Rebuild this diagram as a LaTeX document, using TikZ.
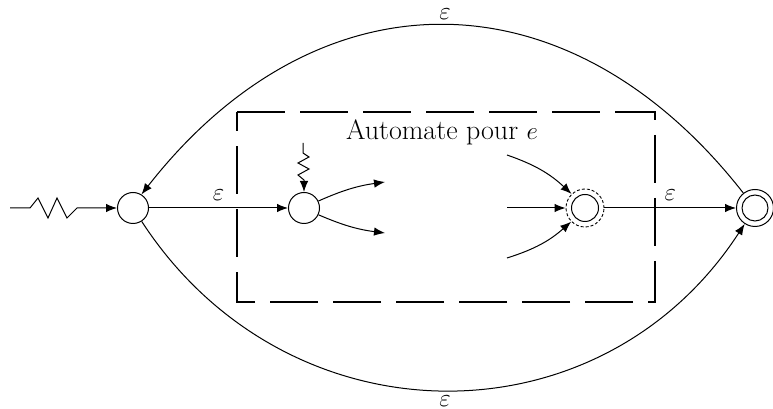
\documentclass[tikz,border=0pt]{standalone}
\usetikzlibrary{arrows.meta}
\begin{document}
\begin{tikzpicture}[x=1pt,y=1pt,
  every node/.style={font=\fontsize{28}{34}\selectfont},
  st/.style={circle,draw,line width=1pt,minimum size=31pt,inner sep=0pt},
  lab/.style={inner sep=0pt},
  arr/.style={line width=1pt,-{Latex[length=11pt,width=8.5pt]}},
  box/.style={line width=2.6pt,dash pattern=on 48pt off 15pt}]
\useasboundingbox (0,0) rectangle (773,409);
% states
\node[st] (q0) at (133,201) {};
\node[st] (q1) at (304,201) {};
\node[circle,draw,line width=0.9pt,dash pattern=on 3pt off 2pt,minimum size=38pt,inner sep=0pt] (qe) at (585,201) {};
\node[circle,draw,line width=1pt,minimum size=27pt,inner sep=0pt] (qei) at (585,201) {};
\node[circle,draw,line width=1pt,minimum size=37pt,inner sep=0pt] (qf) at (755,201) {};
\node[circle,draw,line width=1pt,minimum size=26pt,inner sep=0pt] (qfi) at (755,201) {};
% dashed box
\draw[box] (237,297) -- (655,297) -- (655,107) -- (237,107) -- cycle;
\node[anchor=base,inner sep=0pt] (title) at (442,269) {Automate pour $e$};
% coordinates
\coordinate (s0) at (10,201);
\coordinate (s1) at (303,266);
\coordinate (o1) at (385,227);
\coordinate (o2) at (385,176);
\coordinate (i1) at (507,254);
\coordinate (i2) at (507,201);
\coordinate (i3) at (507,151);
% initial zigzags
\draw[arr] (s0) -- (30,201) -- (38,211) -- (48,191) -- (57,211) -- (67,191) -- (77,201) -- (q0);
\draw[arr] (s1) -- (303,256) -- (309,252) -- (298,246) -- (309,240) -- (298,234) -- (304,229) -- (q1);
% transitions
\draw[arr] (q0) -- node[lab,above=7pt] (e1) {$\varepsilon$} (q1);
\draw[arr] (q1) to[bend left=8] (o1);
\draw[arr] (q1) to[bend right=8] (o2);
\draw[arr] (i1) to[bend left=12] (qe);
\draw[arr] (i2) -- (qe);
\draw[arr] (i3) to[bend right=12] (qe);
\draw[arr] (qe) -- node[lab,above=7pt] (e2) {$\varepsilon$} (qf);
\draw[arr] (qf.128) .. controls +(128:285) and +(52:285) .. (q0.58);
\draw[arr] (q0.-57) .. controls +(-57:266) and +(-123:266) .. (qf.-123);
\node[lab] (e3) at (445,395) {$\varepsilon$};
\node[lab] (e4) at (445,8) {$\varepsilon$};
\end{tikzpicture}
\end{document}
